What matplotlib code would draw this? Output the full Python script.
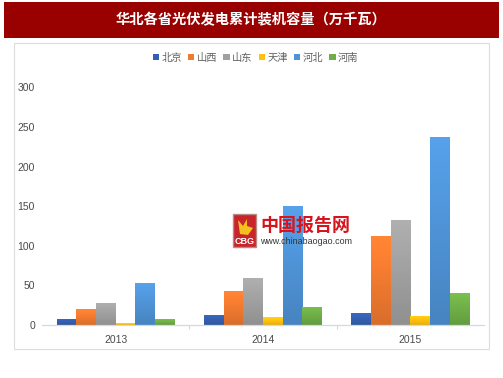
import numpy as np
import matplotlib
matplotlib.use("Agg")
import matplotlib.pyplot as plt
from matplotlib.patches import Rectangle, Polygon
from matplotlib.colors import to_rgb

CJK = ['Noto Sans CJK SC', 'DejaVu Sans']
W, H = 503, 378

title = "华北各省光伏发电累计装机容量（万千瓦）"
years = ["2013", "2014", "2015"]
provinces = ["北京", "山西", "山东", "天津", "河北", "河南"]
beijing = [8, 13, 15]
shanxi = [20, 43, 113]
shandong = [28, 60, 133]
tianjin = [2, 10, 12]
hebei = [53, 150, 238]
henan = [7, 23, 40]
series = [beijing, shanxi, shandong, tianjin, hebei, henan]
colors = ["#3560B0", "#F07A30", "#A0A0A0", "#FFC010", "#4F93D6", "#6FAE47"]
yticks = [0, 50, 100, 150, 200, 250, 300]


def fx(px):
    return px / W


def fy(py):
    return 1 - py / H


def frect(x0, y0, x1, y1, **kw):
    return Rectangle((fx(x0), fy(y1)), (x1 - x0) / W, (y1 - y0) / H,
                     transform=fig.transFigure, **kw)


fig = plt.figure(figsize=(W / 100, H / 100), dpi=100, facecolor="white")

# header band and chart frame
fig.add_artist(frect(4, 2, 499, 38, fc="#990000", ec="none", zorder=-2))
fig.add_artist(frect(14, 43, 488.5, 349, fc="white", ec="#DCDCDC", lw=0.8, zorder=-1))
fig.text(fx(250.5), fy(20.5), title, color="white", fontsize=10.3, fontweight="bold",
         family=CJK, ha="center", va="center")

# plot area
ax = fig.add_axes([fx(42), fy(325), (484 - 42) / W, (325 - 87.5) / H])
ax.patch.set_alpha(0)
x = np.arange(len(years))
group = 0.80
bw = group / len(series)
for i, (vals, col) in enumerate(zip(series, colors)):
    offs = x - group / 2 + bw * (i + 0.5)
    bars = ax.bar(offs, vals, bw, color=col, label=provinces[i], zorder=2)
    rgb = np.array(to_rgb(col))
    grad = np.linspace(1.1, 0.9, 32)[:, None, None] * rgb[None, None, :]
    grad = np.clip(grad, 0, 1)
    for b in bars:
        b.set_edgecolor("none")
        im = ax.imshow(grad, extent=(b.get_x(), b.get_x() + b.get_width(), 0, b.get_height()),
                       aspect="auto", origin="upper", zorder=2.5, interpolation="bilinear")
        im.set_clip_path(b)
ax.set_xlim(-0.5, 2.5)
ax.set_ylim(0, 300)
ax.set_yticks(yticks)
ax.set_xticks(x)
ax.set_xticklabels(years)
ax.tick_params(axis="y", length=0, pad=5, labelsize=7.5, labelcolor="#4A4A4A")
ax.tick_params(axis="x", length=0, pad=7, labelsize=7.5, labelcolor="#4A4A4A")
for lab in ax.get_xticklabels() + ax.get_yticklabels():
    lab.set_family("Liberation Sans")
for s in ["top", "right", "left"]:
    ax.spines[s].set_visible(False)
ax.spines["bottom"].set_color("#D4D8E0")
ax.spines["bottom"].set_linewidth(0.9)
# category separators on the axis line
ax.set_xticks([0.5, 1.5], minor=True)
ax.tick_params(axis="x", which="minor", length=3, color="#D4D8E0", width=0.8)

# legend
leg = ax.legend(loc="center", bbox_to_anchor=(fx(255.5), fy(57.5)), bbox_transform=fig.transFigure,
                ncol=6, frameon=False, prop={"family": CJK, "size": 7.4},
                labelcolor="#606060", handlelength=0.62, handleheight=0.62,
                handletextpad=0.2, columnspacing=0.62, borderpad=0)

# watermark logo
fig.add_artist(frect(233, 214, 256, 247, fc="#C8242A", ec="#B98A86", lw=1, zorder=5))
fig.add_artist(Polygon([(fx(x_), fy(y_)) for x_, y_ in
                        [(238, 220), (243, 226), (247, 219), (247, 226), (253, 228), (248, 235), (240, 234)]],
                       transform=fig.transFigure, fc="#F4C020", ec="none", zorder=6))
fig.text(fx(244.5), fy(241), "CBG", color="white", fontsize=6.5, fontweight="bold",
         family="Liberation Sans", ha="center", va="center", zorder=6)
fig.text(fx(305.5), fy(225), "中国报告网", color="#D5141E", fontsize=13, fontweight="bold",
         family=CJK, ha="center", va="center", zorder=6)
fig.text(fx(306), fy(241), "www.chinabaogao.com", color="#333333", fontsize=6.4,
         family="Liberation Sans", ha="center", va="center", zorder=6)

fig.savefig("out.png", dpi=100)
